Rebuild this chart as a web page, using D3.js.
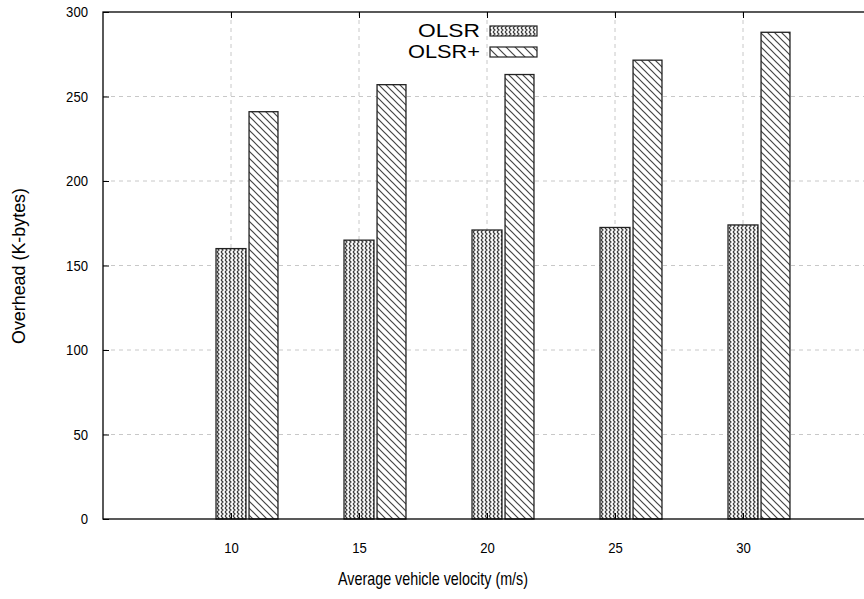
<!DOCTYPE html>
<html><head><meta charset="utf-8">
<script src="https://cdn.jsdelivr.net/npm/d3@7"></script>
<style>
html,body{margin:0;padding:0;background:#fff;}
svg{display:block;font-family:"Liberation Sans",Arial,sans-serif;}
</style></head>
<body>
<script>
const categories = [10, 15, 20, 25, 30];
const olsr = [160, 165, 171, 172.5, 174];
const olsrPlus = [241, 257, 263, 271.5, 288];
const yTicks = [0, 50, 100, 150, 200, 250, 300];
const seriesNames = ["OLSR", "OLSR+"];

(function () {
const W = 864, H = 599;
const svg = d3.select("body").append("svg").attr("width", W).attr("height", H);

const mLeft = 103, mTop = 12, mBottom = 519;
const x = d3.scaleLinear().domain([5, 35]).range([mLeft, mLeft + 768]);
const y = d3.scaleLinear().domain([0, 300]).range([mBottom, mTop]);

const defs = svg.append("defs");
const p1 = defs.append("pattern").attr("id", "zig").attr("patternUnits", "userSpaceOnUse")
  .attr("width", 4).attr("height", 4);
p1.append("rect").attr("width", 4).attr("height", 4).attr("fill", "#fff");
p1.append("path").attr("d", "M1,0 L3,2 L1,4").attr("fill", "none").attr("stroke", "#3a3a3a").attr("stroke-width", 1.2);
const p2 = defs.append("pattern").attr("id", "diag").attr("patternUnits", "userSpaceOnUse")
  .attr("width", 7).attr("height", 7);
p2.append("rect").attr("width", 7).attr("height", 7).attr("fill", "#fff");
p2.append("path").attr("d", "M-1,-1 L8,8 M-1,6 L1,8 M6,-1 L8,1").attr("fill", "none").attr("stroke", "#444").attr("stroke-width", 1.2);
const p3 = defs.append("pattern").attr("id", "diagL").attr("patternUnits", "userSpaceOnUse")
  .attr("width", 9).attr("height", 9);
p3.append("rect").attr("width", 9).attr("height", 9).attr("fill", "#fff");
p3.append("path").attr("d", "M-1,-1 L10,10 M-1,8 L1,10 M8,-1 L10,1").attr("fill", "none").attr("stroke", "#444").attr("stroke-width", 1.2);

const grid = svg.append("g").attr("stroke", "#c8c8c8").attr("stroke-dasharray", "4,4").attr("stroke-width", 1);
grid.selectAll("line.h").data(yTicks.filter(d => d > 0 && d < 300)).join("line").attr("class", "h")
  .attr("x1", mLeft).attr("x2", W).attr("y1", d => y(d)).attr("y2", d => y(d));
grid.selectAll("line.v").data(categories).join("line").attr("class", "v")
  .attr("x1", d => x(d)).attr("x2", d => x(d)).attr("y1", mTop).attr("y2", mBottom);

const bw = 1.17, off = 1.27;
const bars = svg.append("g").attr("stroke", "#222").attr("stroke-width", 1.3);
bars.selectAll("rect.a").data(categories).join("rect").attr("class", "a")
  .attr("x", d => x(d - bw / 2)).attr("width", x(bw) - x(0))
  .attr("y", (d, i) => y(olsr[i])).attr("height", (d, i) => y(0) - y(olsr[i]))
  .attr("fill", "url(#zig)");
bars.selectAll("rect.b").data(categories).join("rect").attr("class", "b")
  .attr("x", d => x(d + off - bw / 2 + 0.02)).attr("width", x(bw - 0.04) - x(0))
  .attr("y", (d, i) => y(olsrPlus[i])).attr("height", (d, i) => y(0) - y(olsrPlus[i]))
  .attr("fill", "url(#diag)");

svg.append("rect").attr("x", mLeft).attr("y", mTop).attr("width", 768).attr("height", mBottom - mTop)
  .attr("fill", "none").attr("stroke", "#000").attr("stroke-width", 1.3);

const yAxis = d3.axisLeft(y).tickValues(yTicks).tickSizeInner(-6).tickSizeOuter(0).tickPadding(15);
const gy = svg.append("g").attr("transform", `translate(${mLeft},0)`).call(yAxis);
gy.select(".domain").remove();
gy.selectAll("text").attr("font-size", 15.5).attr("font-family", "Liberation Sans, Arial, sans-serif").attr("fill", "#000")
  .attr("textLength", d => String(d).length * 7.3).attr("lengthAdjust", "spacingAndGlyphs");

const xAxis = d3.axisBottom(x).tickValues(categories).tickSizeInner(-6).tickSizeOuter(0).tickPadding(23);
const gx = svg.append("g").attr("transform", `translate(0,${mBottom})`).call(xAxis);
gx.select(".domain").remove();
gx.selectAll("text").attr("font-size", 15.5).attr("font-family", "Liberation Sans, Arial, sans-serif").attr("fill", "#000")
  .attr("textLength", d => String(d).length * 7.3).attr("lengthAdjust", "spacingAndGlyphs");

const xTop = d3.axisTop(x).tickValues(categories).tickSizeInner(-6).tickSizeOuter(0).tickFormat("");
const gt = svg.append("g").attr("transform", `translate(0,${mTop})`).call(xTop);
gt.select(".domain").remove();

svg.append("text").attr("x", 433).attr("y", 585).attr("text-anchor", "middle")
  .attr("font-size", 19).attr("textLength", 190).attr("lengthAdjust", "spacingAndGlyphs")
  .text("Average vehicle velocity (m/s)");
svg.append("text").attr("transform", "translate(25,266) rotate(-90)").attr("text-anchor", "middle")
  .attr("font-size", 19).attr("textLength", 156).attr("lengthAdjust", "spacingAndGlyphs")
  .text("Overhead (K-bytes)");

const leg = svg.append("g");
const pats = ["url(#zig)", "url(#diagL)"];
const legW = [62, 72];
seriesNames.forEach((n, i) => {
  const yy = 31 + i * 21;
  leg.append("text").attr("x", 480).attr("y", yy).attr("dy", "0.35em").attr("text-anchor", "end")
    .attr("font-size", 17.5).attr("textLength", legW[i]).attr("lengthAdjust", "spacingAndGlyphs").text(n);
  leg.append("rect").attr("x", 490).attr("y", yy - 5).attr("width", 47).attr("height", 10)
    .attr("fill", pats[i]).attr("stroke", "#222").attr("stroke-width", 1.2);
});
})();
</script>
</body></html>
